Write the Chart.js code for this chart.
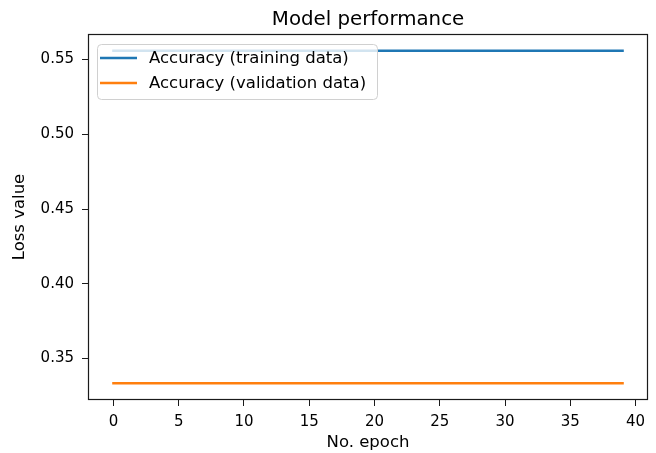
<!DOCTYPE html>
<html>
<head>
<meta charset="utf-8">
<script src="https://cdn.jsdelivr.net/npm/chart.js@4.4.0/dist/chart.umd.min.js"></script>
<style>
html,body{margin:0;padding:0;background:#fff;}
#wrap{width:656px;height:453px;}
</style>
</head>
<body>
<div id="wrap"><canvas id="c" width="656" height="453"></canvas></div>
<script>
const chartTitle = "Model performance";
const xAxisLabel = "No. epoch";
const yAxisLabel = "Loss value";
const epochs = [0,1,2,3,4,5,6,7,8,9,10,11,12,13,14,15,16,17,18,19,20,21,22,23,24,25,26,27,28,29,30,31,32,33,34,35,36,37,38,39];
const trainingAcc = [0.556,0.556,0.556,0.556,0.556,0.556,0.556,0.556,0.556,0.556,0.556,0.556,0.556,0.556,0.556,0.556,0.556,0.556,0.556,0.556,0.556,0.556,0.556,0.556,0.556,0.556,0.556,0.556,0.556,0.556,0.556,0.556,0.556,0.556,0.556,0.556,0.556,0.556,0.556,0.556];
const validationAcc = [0.3333,0.3333,0.3333,0.3333,0.3333,0.3333,0.3333,0.3333,0.3333,0.3333,0.3333,0.3333,0.3333,0.3333,0.3333,0.3333,0.3333,0.3333,0.3333,0.3333,0.3333,0.3333,0.3333,0.3333,0.3333,0.3333,0.3333,0.3333,0.3333,0.3333,0.3333,0.3333,0.3333,0.3333,0.3333,0.3333,0.3333,0.3333,0.3333,0.3333];
const seriesNames = ["Accuracy (training data)", "Accuracy (validation data)"];
const xTicks = [0,5,10,15,20,25,30,35,40];
const yTicks = [0.35,0.40,0.45,0.50,0.55];

const FONT = "'DejaVu Sans', sans-serif";
const TICK_SIZE = 15;
const LABEL_SIZE = 16.5;
const TITLE_SIZE = 19.8;

function margins(arr){
  const mn = Math.min(...arr), mx = Math.max(...arr);
  const m = (mx - mn) * 0.05;
  return [mn - m, mx + m];
}
const allY = trainingAcc.concat(validationAcc);
const [yMin, yMax] = margins(allY);
const [xMin, xMax] = margins(epochs);

const frame = {
  id: 'frame',
  afterDraw(chart){
    const ctx = chart.ctx, a = chart.chartArea;
    ctx.save();
    // spines
    ctx.strokeStyle = '#1a1a1a';
    ctx.lineWidth = 1.2;
    ctx.strokeRect(Math.round(a.left)+0.5, Math.round(a.top)+0.5, Math.round(a.right-a.left)-1, Math.round(a.bottom-a.top)-1);
    // title
    ctx.fillStyle = '#000';
    ctx.font = TITLE_SIZE + "px " + FONT;
    ctx.textAlign = 'center';
    ctx.textBaseline = 'alphabetic';
    ctx.fillText(chartTitle, (a.left + a.right)/2, 25);
    // legend
    const lx = 97, ly = 44, lw = 280, lh = 55;
    ctx.beginPath();
    ctx.roundRect(lx+0.5, ly+0.5, lw, lh, 4);
    ctx.fillStyle = 'rgba(255,255,255,0.8)';
    ctx.fill();
    ctx.strokeStyle = '#d0d0d0';
    ctx.lineWidth = 1;
    ctx.stroke();
    ctx.font = LABEL_SIZE + "px " + FONT;
    ctx.textAlign = 'left';
    ctx.textBaseline = 'middle';
    chart.data.datasets.forEach((ds, i) => {
      const yy = 58 + i * 25;
      ctx.strokeStyle = ds.borderColor;
      ctx.lineWidth = 2.5;
      ctx.lineCap = 'butt';
      ctx.beginPath();
      ctx.moveTo(100, yy);
      ctx.lineTo(137, yy);
      ctx.stroke();
      ctx.fillStyle = '#000';
      ctx.fillText(ds.label, 149, yy + 1);
    });
    ctx.restore();
  }
};

new Chart(document.getElementById('c'), {
  type: 'line',
  data: {
    datasets: [
      { label: seriesNames[0], data: epochs.map((e,i)=>({x:e, y:trainingAcc[i]})), borderColor: '#1f77b4', borderWidth: 2.5, borderCapStyle: 'square', pointRadius: 0, tension: 0, fill: false },
      { label: seriesNames[1], data: epochs.map((e,i)=>({x:e, y:validationAcc[i]})), borderColor: '#ff7f0e', borderWidth: 2.5, borderCapStyle: 'square', pointRadius: 0, tension: 0, fill: false }
    ]
  },
  options: {
    responsive: false,
    animation: false,
    devicePixelRatio: 1,
    layout: { padding: { left: 0, top: 34, right: 8, bottom: 0 } },
    plugins: { legend: { display: false }, title: { display: false }, tooltip: { enabled: false } },
    scales: {
      x: {
        type: 'linear', min: xMin, max: xMax,
        afterBuildTicks(s){ s.ticks = xTicks.map(v=>({value:v})); },
        afterFit(s){ s.height = 53; },
        grid: { drawOnChartArea: false, drawTicks: true, tickLength: 6, color: '#1a1a1a' },
        border: { display: false },
        ticks: { color: '#000', font: { family: FONT, size: TICK_SIZE }, padding: 7, maxRotation: 0, autoSkip: false, callback: v => String(v) },
        title: { display: true, text: xAxisLabel, color: '#000', font: { family: FONT, size: LABEL_SIZE }, padding: { top: 0, bottom: 0 } }
      },
      y: {
        type: 'linear', min: yMin, max: yMax,
        afterBuildTicks(s){ s.ticks = yTicks.map(v=>({value:v})); },
        afterFit(s){ s.width = 88; },
        grid: { drawOnChartArea: false, drawTicks: true, tickLength: 6, color: '#1a1a1a' },
        border: { display: false },
        ticks: { color: '#000', font: { family: FONT, size: TICK_SIZE }, padding: 8, autoSkip: false, callback: v => v.toFixed(2) },
        title: { display: true, text: yAxisLabel, color: '#000', font: { family: FONT, size: LABEL_SIZE }, padding: { top: 10, bottom: 0 } }
      }
    }
  },
  plugins: [frame]
});
</script>
</body>
</html>
